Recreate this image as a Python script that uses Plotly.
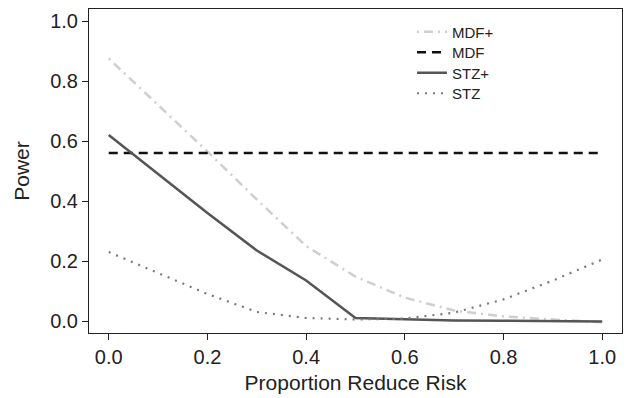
import plotly.graph_objects as go

# Data
prop = [0.0, 0.1, 0.2, 0.3, 0.4, 0.5, 0.6, 0.7, 0.8, 0.9, 1.0]
mdf_plus = [0.875, 0.72, 0.565, 0.405, 0.25, 0.148, 0.078, 0.035, 0.015, 0.005, -0.004]
mdf = [0.56] * len(prop)
stz_plus = [0.62, 0.49, 0.36, 0.235, 0.135, 0.01, 0.005, 0.002, 0.001, 0.0, -0.002]
stz = [0.23, 0.16, 0.09, 0.03, 0.01, 0.005, 0.008, 0.028, 0.072, 0.135, 0.205]

x_ticks = [0.0, 0.2, 0.4, 0.6, 0.8, 1.0]
y_ticks = [0.0, 0.2, 0.4, 0.6, 0.8, 1.0]
tick_text = ["0.0", "0.2", "0.4", "0.6", "0.8", "1.0"]

FONT = "Liberation Sans, Arial, sans-serif"

fig = go.Figure()
fig.add_trace(go.Scatter(x=prop, y=mdf_plus, mode="lines", name="MDF+", legend="legend",
                         line=dict(color="#cfcfcf", width=2.5, dash="2px,5px,9px,5px")))
fig.add_trace(go.Scatter(x=prop, y=mdf, mode="lines", name="MDF", legend="legend2",
                         line=dict(color="#111111", width=2.5, dash="9px,6px")))
fig.add_trace(go.Scatter(x=prop, y=stz_plus, mode="lines", name="STZ+", legend="legend3",
                         line=dict(color="#555555", width=2.5)))
fig.add_trace(go.Scatter(x=prop, y=stz, mode="lines", name="STZ", legend="legend4",
                         line=dict(color="#7a7a7a", width=2.2, dash="2px,6px")))

axis_common = dict(
    showline=True, linecolor="#222222", linewidth=1, mirror=True,
    ticks="outside", ticklen=6, tickwidth=1, tickcolor="#222222",
    showgrid=False, zeroline=False,
    tickfont=dict(family=FONT, size=20, color="#222222"),
)

plot_top, plot_h = 9, 324
row_centers = [32, 52.5, 73, 93.5]


def legend_at(yc):
    return dict(x=0.606, y=(plot_top + plot_h - yc) / plot_h, xanchor="left", yanchor="middle",
                bgcolor="rgba(0,0,0,0)", borderwidth=0,
                font=dict(family=FONT, size=15, color="#222222"))


fig.update_layout(
    width=628, height=398,
    margin=dict(l=89, r=6, t=9, b=65),
    paper_bgcolor="white", plot_bgcolor="white",
    font=dict(family=FONT, color="#222222"),
    xaxis=dict(range=[-0.04, 1.04], tickvals=x_ticks, ticktext=tick_text,
               title=dict(text="Proportion Reduce Risk", font=dict(family=FONT, size=21, color="#222222"),
                          standoff=8),
               **axis_common),
    yaxis=dict(range=[-0.04, 1.04], tickvals=y_ticks, ticktext=tick_text,
               title=dict(text="Power", font=dict(family=FONT, size=21, color="#222222"),
                          standoff=14),
               **axis_common),
    legend=legend_at(row_centers[0]),
    legend2=legend_at(row_centers[1]),
    legend3=legend_at(row_centers[2]),
    legend4=legend_at(row_centers[3]),
    showlegend=True,
)

fig.write_html("out.html")
